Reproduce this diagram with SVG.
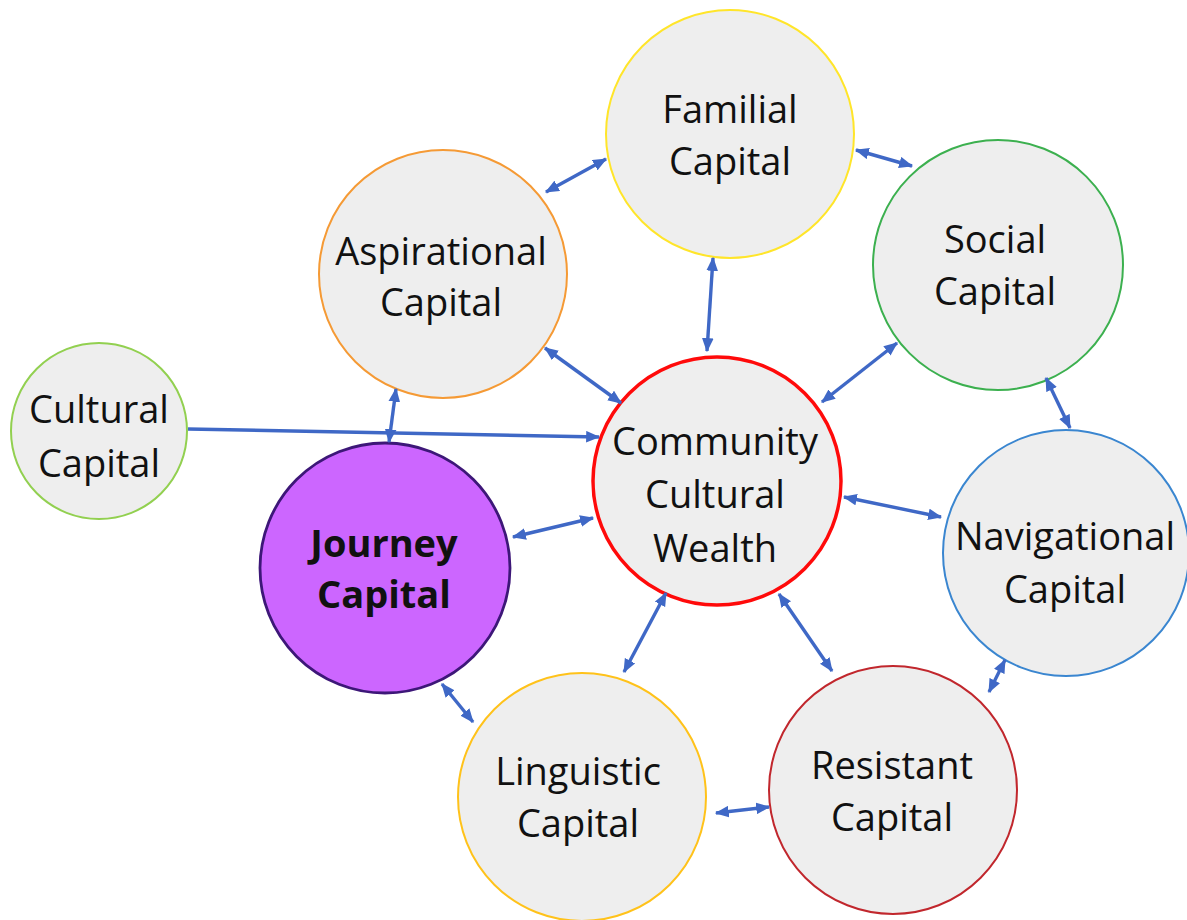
<svg xmlns="http://www.w3.org/2000/svg" width="1187" height="920" viewBox="0 0 1187 920">
<style>
.node{fill:#EEEEEE;stroke-width:2}
.lbl{font-family:"Open Sans","Noto Sans",sans-serif;font-size:38px;fill:#111;text-anchor:middle}
.bold{font-weight:bold}
.con line{stroke:#3F68C6;stroke-width:3.4;fill:none}
.dbl{marker-start:url(#ah);marker-end:url(#ah)}
.sgl{marker-end:url(#ah)}
</style>
<defs>
<marker id="ah" viewBox="0 0 12 10" markerWidth="14" markerHeight="12" refX="11" refY="5" orient="auto-start-reverse" markerUnits="userSpaceOnUse">
<path d="M0,0 L12,5 L0,10 z" fill="#3F68C6"/>
</marker>
</defs>
<rect width="1187" height="920" fill="#FFFFFF"/>

<g id="familial">
<circle class="node" cx="730" cy="134" r="124" stroke="#FFE52A"/>
<text class="lbl" x="730" y="123">Familial</text>
<text class="lbl" x="730" y="175">Capital</text>
</g>
<g id="aspirational">
<circle class="node" cx="443" cy="274" r="124" stroke="#F59A35"/>
<text class="lbl" x="441" y="265">Aspirational</text>
<text class="lbl" x="441" y="316">Capital</text>
</g>
<g id="social">
<circle class="node" cx="998" cy="265" r="125" stroke="#3CB04F"/>
<text class="lbl" x="995" y="253">Social</text>
<text class="lbl" x="995" y="305">Capital</text>
</g>
<g id="cultural">
<circle class="node" cx="99" cy="431" r="88" stroke="#92D050"/>
<text class="lbl" x="99" y="423">Cultural</text>
<text class="lbl" x="99" y="477">Capital</text>
</g>
<g id="ccw">
<circle class="node" cx="717" cy="481" r="124" stroke="#FF0A0A" style="stroke-width:3.5"/>
<text class="lbl" x="715" y="455">Community</text>
<text class="lbl" x="715" y="508">Cultural</text>
<text class="lbl" x="715" y="562">Wealth</text>
</g>
<g id="journey">
<circle cx="385" cy="568" r="125" fill="#CC66FF" stroke="#3D1778" stroke-width="2.8"/>
<text class="lbl bold" x="384" y="557">Journey</text>
<text class="lbl bold" x="384" y="608">Capital</text>
</g>
<g id="navigational">
<circle class="node" cx="1066" cy="553" r="123" stroke="#3A86D0"/>
<text class="lbl" x="1065" y="550">Navigational</text>
<text class="lbl" x="1065" y="603">Capital</text>
</g>
<g id="linguistic">
<circle class="node" cx="582" cy="797" r="124" stroke="#FFC21A"/>
<text class="lbl" x="578" y="785">Linguistic</text>
<text class="lbl" x="578" y="837">Capital</text>
</g>
<g id="resistant">
<circle class="node" cx="893" cy="790" r="124" stroke="#C1272D"/>
<text class="lbl" x="892" y="779">Resistant</text>
<text class="lbl" x="892" y="831">Capital</text>
</g>

<g id="connectors" class="con">
<line class="dbl" x1="546" y1="192" x2="606" y2="159"/>
<line class="dbl" x1="856" y1="150" x2="912" y2="166"/>
<line class="dbl" x1="713" y1="258" x2="707" y2="351"/>
<line class="dbl" x1="545" y1="348" x2="621" y2="403"/>
<line class="dbl" x1="897" y1="343" x2="822" y2="402"/>
<line class="dbl" x1="1046" y1="378" x2="1070" y2="428"/>
<line class="dbl" x1="844" y1="497" x2="941" y2="517"/>
<line class="dbl" x1="1005" y1="660" x2="989" y2="692"/>
<line class="dbl" x1="779" y1="594" x2="832" y2="671"/>
<line class="dbl" x1="666" y1="593" x2="624" y2="672"/>
<line class="dbl" x1="716" y1="813" x2="769" y2="807"/>
<line class="dbl" x1="442" y1="684" x2="473" y2="722"/>
<line class="dbl" x1="513" y1="537" x2="593" y2="518"/>
<line class="dbl" x1="389" y1="442" x2="396" y2="389"/>
<line class="sgl" x1="188" y1="429" x2="599" y2="437"/>
</g>
</svg>
